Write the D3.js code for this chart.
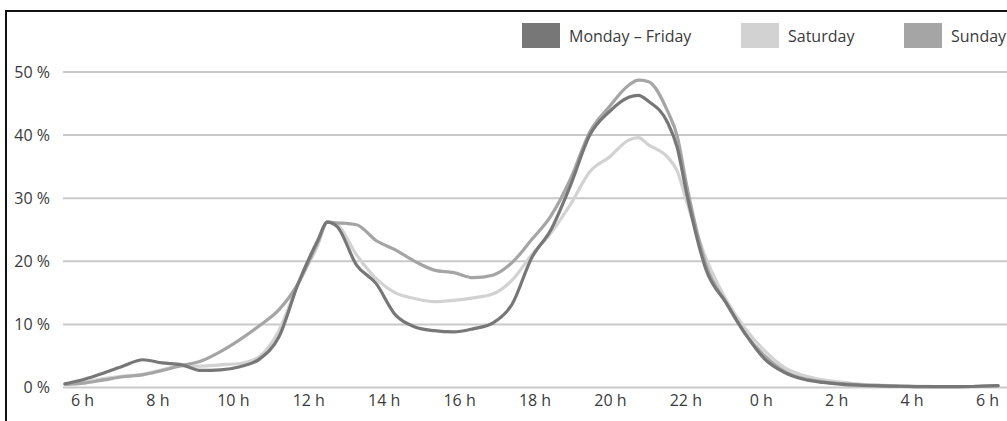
<!DOCTYPE html>
<html>
<head>
<meta charset="utf-8">
<script src="https://cdn.jsdelivr.net/npm/d3@7"></script>
<style>
  html, body { margin: 0; padding: 0; background: #fff; }
  svg { display: block; }
  text { font-family: "Open Sans", "DejaVu Sans", sans-serif; fill: #3a3a3a; }
</style>
</head>
<body>
<svg id="chart" width="1007" height="421"></svg>
<script>
// ---- data (hour of day, 6 = 6 h ... 30 = 6 h next day) ----
const hours = [6, 6.5, 7, 7.5, 8, 8.5, 9, 9.5, 10, 10.5, 11, 11.5, 12, 12.5, 12.75, 13, 13.5, 14, 14.5, 15, 15.5, 16, 16.5, 17, 17.5, 18, 18.5, 19, 19.5, 20, 20.5, 20.75, 21, 21.5, 21.75, 22, 22.5, 23, 23.5, 24, 24.5, 25, 25.5, 26, 26.5, 27, 27.5, 28, 28.5, 29, 29.5, 30];
const mondayFriday = [0.6, 1.3, 2.3, 3.4, 4.4, 3.9, 3.6, 2.7, 2.8, 3.3, 4.5, 8.0, 16.5, 23.3, 26.2, 25.5, 19.4, 16.5, 11.5, 9.6, 9.0, 8.8, 9.3, 10.2, 13.2, 20.5, 25.0, 32.0, 40.0, 43.7, 46.0, 46.3, 45.4, 42.0, 38.0, 30.5, 18.5, 13.5, 8.5, 4.5, 2.4, 1.3, 0.8, 0.5, 0.35, 0.25, 0.2, 0.15, 0.15, 0.15, 0.2, 0.3];
const saturday = [0.5, 0.9, 1.4, 1.8, 2.1, 2.8, 3.4, 3.4, 3.6, 3.8, 4.9, 9.0, 16.5, 22.5, 26.2, 25.8, 21.0, 17.3, 15.0, 14.1, 13.6, 13.8, 14.2, 14.8, 17.0, 21.0, 24.5, 29.0, 34.2, 36.5, 39.2, 39.6, 38.5, 36.5, 34.3, 29.3, 20.3, 14.0, 9.3, 5.8, 3.2, 1.9, 1.2, 0.8, 0.5, 0.35, 0.25, 0.2, 0.15, 0.15, 0.2, 0.3];
const sunday = [0.5, 0.7, 1.2, 1.7, 2.0, 2.7, 3.5, 4.2, 5.7, 7.6, 9.8, 12.3, 16.5, 23.0, 26.2, 26.1, 25.8, 23.3, 21.8, 20.0, 18.6, 18.2, 17.4, 17.8, 19.8, 23.4, 27.2, 33.0, 40.5, 44.5, 47.9, 48.7, 48.5, 43.8, 39.8, 31.8, 19.2, 13.5, 8.5, 5.0, 2.6, 1.4, 0.9, 0.6, 0.4, 0.3, 0.2, 0.15, 0.15, 0.15, 0.2, 0.3];
const seriesNames = ["Monday – Friday", "Saturday", "Sunday"];
const yTicks = [0, 10, 20, 30, 40, 50];
const xTickLabels = ["6 h", "8 h", "10 h", "12 h", "14 h", "16 h", "18 h", "20 h", "22 h", "0 h", "2 h", "4 h", "6 h"];

const colors = {"Monday – Friday": "#777777", "Saturday": "#d2d2d2", "Sunday": "#a5a5a5"};
const seriesValues = {"Monday – Friday": mondayFriday, "Saturday": saturday, "Sunday": sunday};

const svg = d3.select("#chart");

// frame
svg.append("rect").attr("x", 0).attr("y", 0).attr("width", 1007).attr("height", 421).attr("fill", "#fff");
svg.append("path").attr("d", "M6,421 V11 H1007").attr("fill", "none").attr("stroke", "#111").attr("stroke-width", 2);

const x = d3.scaleLinear().domain([6, 30]).range([65, 998]);
const y = d3.scaleLinear().domain([0, 50]).range([387.5, 72]);
const xt = d3.scalePoint().domain(d3.range(xTickLabels.length)).range([82, 987]);

// grid
svg.append("g").selectAll("line").data(yTicks).join("line")
  .attr("x1", 63).attr("x2", 1007)
  .attr("y1", d => y(d)).attr("y2", d => y(d))
  .attr("stroke", "#c9c9c9").attr("stroke-width", 2);

// y axis labels
const yAxis = d3.axisLeft(y).tickValues(yTicks).tickFormat(d => d + " %").tickSize(0).tickPadding(0);
const gy = svg.append("g").attr("transform", "translate(50,0)").call(yAxis);
gy.select(".domain").remove();
gy.selectAll("text").attr("font-size", 16).attr("fill", "#3a3a3a").style("font-family", "Open Sans, sans-serif");

// x axis labels
const xAxis = d3.axisBottom(xt).tickFormat(i => xTickLabels[i]).tickSize(0).tickPadding(0);
const gx = svg.append("g").attr("transform", "translate(0,395)").call(xAxis);
gx.select(".domain").remove();
gx.selectAll("text").attr("font-size", 16).attr("fill", "#3a3a3a").style("font-family", "Open Sans, sans-serif");

// lines
const line = d3.line().x((d, i) => x(hours[i])).y(d => y(d)).curve(d3.curveMonotoneX);
const drawOrder = ["Saturday", "Sunday", "Monday – Friday"];
svg.append("g").selectAll("path").data(drawOrder).join("path")
  .attr("d", name => line(seriesValues[name]))
  .attr("fill", "none")
  .attr("stroke", name => colors[name])
  .attr("stroke-width", 3.2)
  .attr("stroke-linejoin", "round")
  .attr("stroke-linecap", "round");

// legend
const legendX = [522, 741, 904];
const lg = svg.append("g").selectAll("g").data(seriesNames).join("g")
  .attr("transform", (d, i) => `translate(${legendX[i]},23)`);
lg.append("rect").attr("width", 38).attr("height", 25).attr("fill", d => colors[d]);
lg.append("text").attr("x", 47).attr("y", 13).attr("dy", "0.35em")
  .attr("font-size", 16).text(d => d);
</script>
</body>
</html>
